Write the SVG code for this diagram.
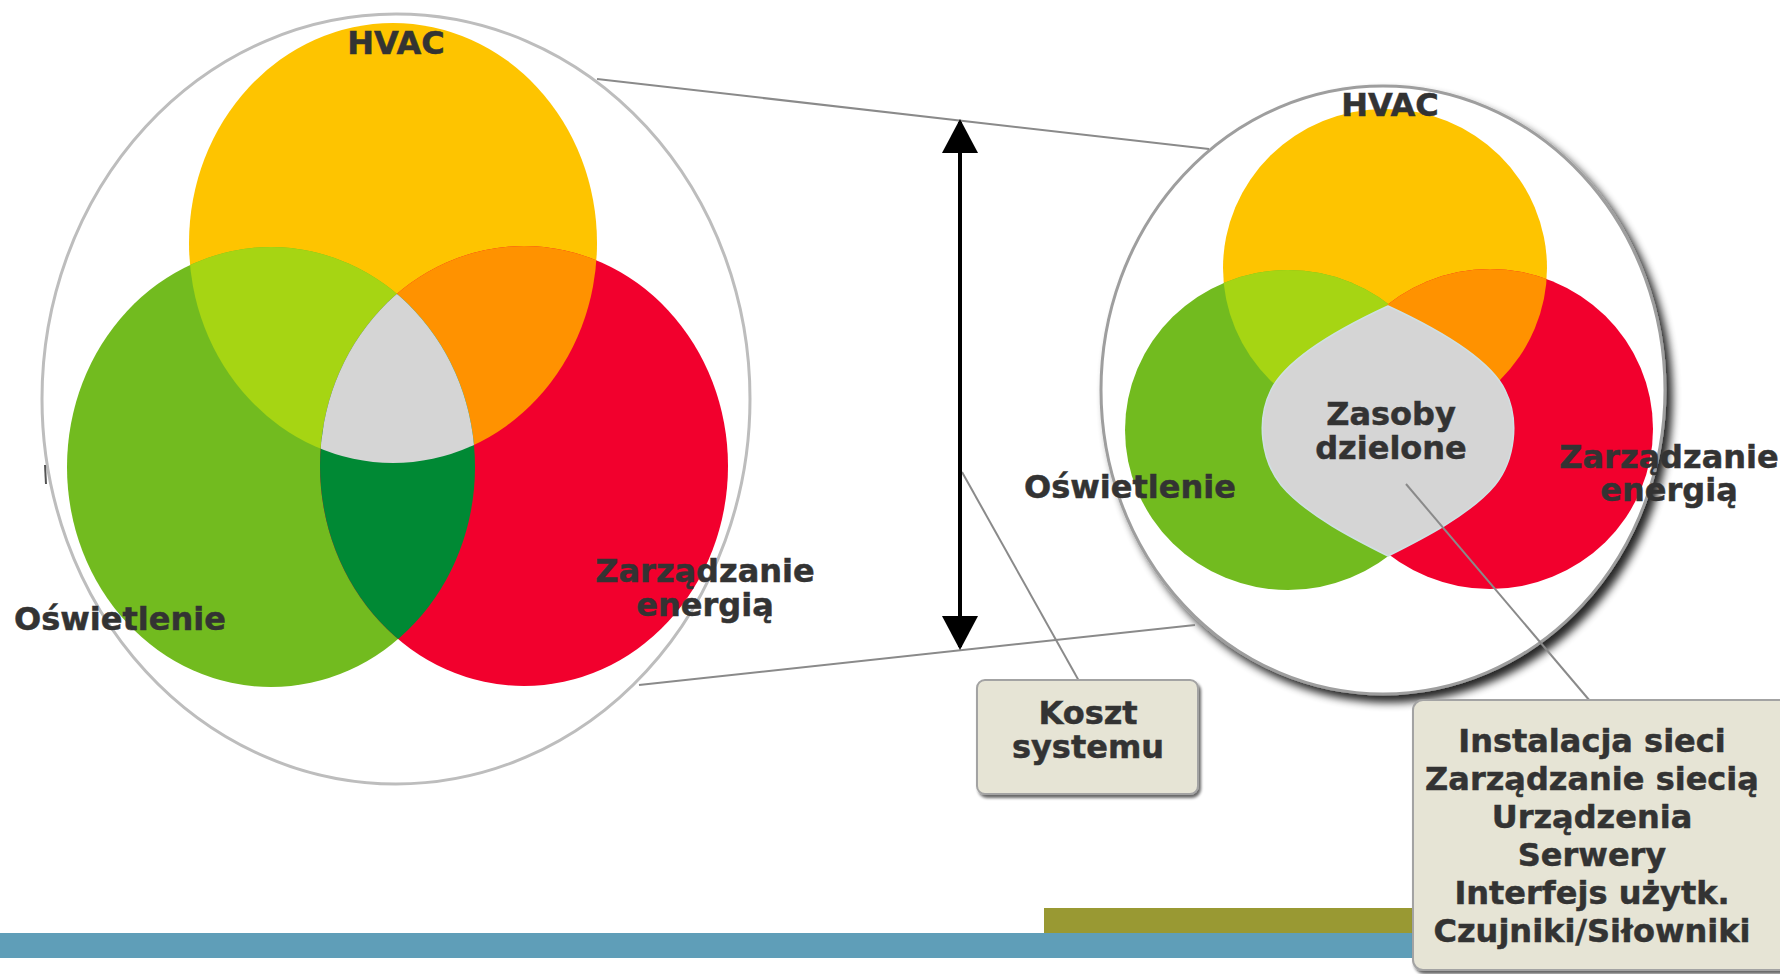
<svg xmlns="http://www.w3.org/2000/svg" width="1780" height="974" viewBox="0 0 1780 974">
<style>
.lbl{font-family:"DejaVu Sans","Liberation Sans",sans-serif;font-weight:bold;font-size:32px;fill:#333333;stroke:#333333;stroke-width:0.5}
.box{font-family:"DejaVu Sans","Liberation Sans",sans-serif;font-weight:bold;font-size:32px;fill:#333333;stroke:#333333;stroke-width:0.5;text-anchor:middle}
.mid{text-anchor:middle}
.conn{stroke:#8a8a8a;stroke-width:2;fill:none}
.yel{fill:#FEC400}.grn{fill:#72BB1F}.red{fill:#F2002D}
.lime{fill:#A6D513}.orng{fill:#FF9200}.dgrn{fill:#008934}.gray{fill:#D5D5D5}
.note{fill:#E6E4D5;stroke:#A3A3A3;stroke-width:2}
</style>
<defs>
<clipPath id="cLY"><ellipse cx="393" cy="243" rx="204" ry="220"/></clipPath>
<clipPath id="cLG"><ellipse cx="271" cy="467" rx="204" ry="220"/></clipPath>
<clipPath id="cRY"><ellipse cx="1385" cy="268" rx="162" ry="159"/></clipPath>
<filter id="circShadow" x="-10%" y="-10%" width="125%" height="125%">
<feGaussianBlur in="SourceAlpha" stdDeviation="4"/>
<feOffset dx="6" dy="7"/>
<feComponentTransfer><feFuncA type="linear" slope="0.85"/></feComponentTransfer>
<feMerge><feMergeNode/><feMergeNode in="SourceGraphic"/></feMerge>
</filter>
<filter id="boxShadow" x="-5%" y="-5%" width="115%" height="115%">
<feGaussianBlur in="SourceAlpha" stdDeviation="1.5"/>
<feOffset dx="2" dy="3"/>
<feComponentTransfer><feFuncA type="linear" slope="0.6"/></feComponentTransfer>
<feMerge><feMergeNode/><feMergeNode in="SourceGraphic"/></feMerge>
</filter>
<marker id="ah" viewBox="0 0 34 36" refX="31" refY="18" markerWidth="34" markerHeight="36" markerUnits="userSpaceOnUse" orient="auto-start-reverse">
<path d="M0,0 L34,18 L0,36 Z" fill="#000"/>
</marker>
</defs>

<g id="bottom-bars">
<rect x="1044" y="908" width="380" height="25" fill="#999933"/>
<rect x="0" y="933" width="1424" height="25" fill="#5F9EB8"/>
</g>

<g id="left-venn">
<ellipse cx="396" cy="399" rx="354" ry="385" fill="#fff" stroke="#BDBDBD" stroke-width="3"/>
<ellipse class="yel" cx="393" cy="243" rx="204" ry="220"/>
<ellipse class="grn" cx="271" cy="467" rx="204" ry="220"/>
<ellipse class="red" cx="524" cy="466" rx="204" ry="220"/>
<ellipse class="lime" cx="271" cy="467" rx="204" ry="220" clip-path="url(#cLY)"/>
<ellipse class="orng" cx="524" cy="466" rx="204" ry="220" clip-path="url(#cLY)"/>
<ellipse class="dgrn" cx="524" cy="466" rx="204" ry="220" clip-path="url(#cLG)"/>
<g clip-path="url(#cLG)"><ellipse class="gray" cx="524" cy="466" rx="204" ry="220" clip-path="url(#cLY)"/></g>
<line x1="45" y1="465" x2="46" y2="484" stroke="#555" stroke-width="2"/>
<text class="lbl mid" x="396" y="54" font-size="33">HVAC</text>
<text class="lbl" x="14" y="630">Oświetlenie</text>
<text class="lbl mid" x="705" y="582">Zarządzanie</text>
<text class="lbl mid" x="705" y="616">energią</text>
</g>

<g id="right-venn">
<ellipse cx="1383" cy="390" rx="282" ry="304" fill="#fff" stroke="#9E9E9E" stroke-width="3" filter="url(#circShadow)"/>
<ellipse class="yel" cx="1385" cy="268" rx="162" ry="159"/>
<ellipse class="grn" cx="1288" cy="430" rx="163" ry="160"/>
<ellipse class="red" cx="1490" cy="429" rx="163" ry="160"/>
<ellipse class="lime" cx="1288" cy="430" rx="163" ry="160" clip-path="url(#cRY)"/>
<ellipse class="orng" cx="1490" cy="429" rx="163" ry="160" clip-path="url(#cRY)"/>
<path class="gray" stroke="#CFE0E3" stroke-width="1.5" d="M1388,306 C1440,330 1490,360 1505,390 C1520,420 1515,460 1495,485 C1470,515 1420,540 1388,556 C1356,540 1306,515 1281,485 C1261,460 1256,420 1271,390 C1286,360 1336,330 1388,306 Z"/>
<text class="lbl mid" x="1390" y="116" font-size="33">HVAC</text>
<text class="lbl mid" x="1391" y="425" font-size="31">Zasoby</text>
<text class="lbl mid" x="1391" y="459" font-size="31">dzielone</text>
<text class="lbl" x="1024" y="498">Oświetlenie</text>
<text class="lbl mid" x="1669" y="468">Zarządzanie</text>
<text class="lbl mid" x="1669" y="501">energią</text>
</g>

<g id="connectors">
<line class="conn" x1="597" y1="79" x2="1209" y2="149"/>
<line class="conn" x1="639" y1="685" x2="1195" y2="625"/>
<line class="conn" x1="962" y1="472" x2="1079" y2="681"/>
<line class="conn" x1="1406" y1="484" x2="1590" y2="701"/>
<line x1="960" y1="122" x2="960" y2="647" stroke="#000" stroke-width="4" marker-start="url(#ah)" marker-end="url(#ah)"/>
</g>

<g id="koszt-systemu">
<rect class="note" x="977" y="680" width="221" height="114" rx="8" filter="url(#boxShadow)"/>
<text class="box" x="1088" y="724" font-size="31">Koszt</text>
<text class="box" x="1088" y="758" font-size="31">systemu</text>
</g>

<g id="zasoby-lista">
<rect class="note" x="1413" y="700" width="390" height="270" rx="10" filter="url(#boxShadow)"/>
<text class="box" x="1592" y="752">Instalacja sieci</text>
<text class="box" x="1592" y="790">Zarządzanie siecią</text>
<text class="box" x="1592" y="828">Urządzenia</text>
<text class="box" x="1592" y="866">Serwery</text>
<text class="box" x="1592" y="904">Interfejs użytk.</text>
<text class="box" x="1592" y="942">Czujniki/Siłowniki</text>
</g>
</svg>
